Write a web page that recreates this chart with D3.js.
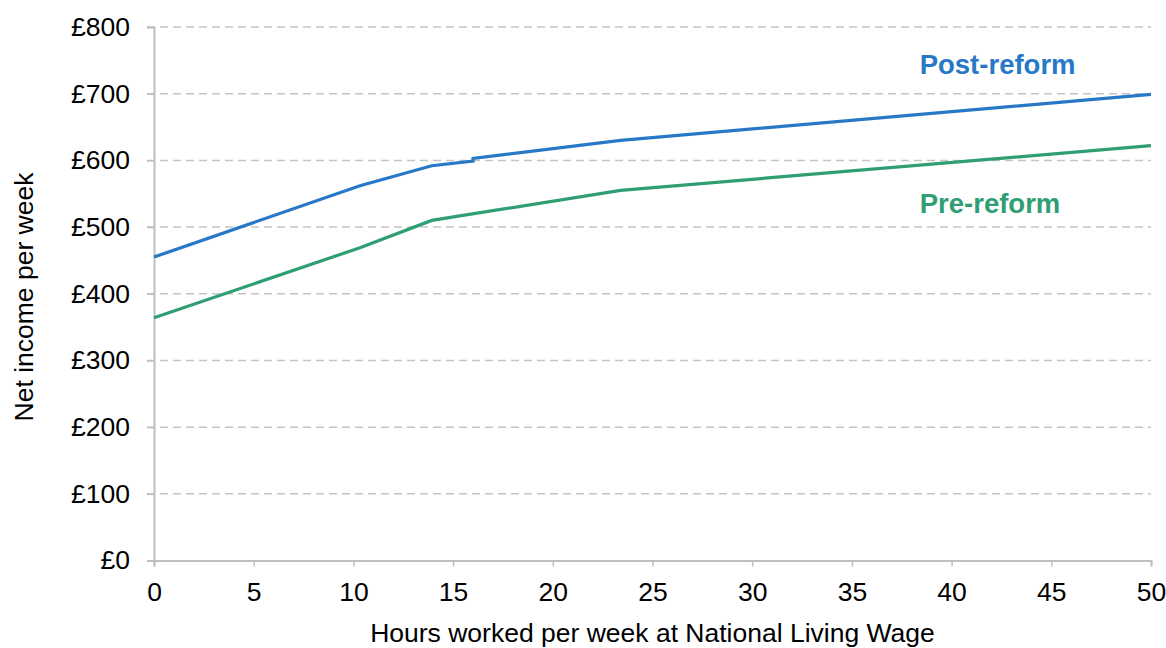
<!DOCTYPE html>
<html>
<head>
<meta charset="utf-8">
<script src="https://cdn.jsdelivr.net/npm/d3@7"></script>
<style>
  html, body { margin: 0; padding: 0; background: #fff; }
  svg { display: block; }
  text { font-family: "Liberation Sans", Arial, sans-serif; }
</style>
</head>
<body>
<svg id="chart" width="1166" height="648"></svg>
<script>
// Data (hours worked per week, net income £ per week)
const postHours  = [0, 10.33, 13.93, 16.0, 16.0, 23.4, 50];
const postIncome = [455, 562, 592, 599, 603, 630, 699];
const preHours   = [0, 10.33, 13.93, 23.4, 50];
const preIncome  = [364, 469, 510, 555, 622];
const xTicks = [0, 5, 10, 15, 20, 25, 30, 35, 40, 45, 50];
const yTicks = [0, 100, 200, 300, 400, 500, 600, 700, 800];
const seriesNames = ["Post-reform", "Pre-reform"];
const xTitle = "Hours worked per week at National Living Wage";
const yTitle = "Net income per week";

const colors = { post: "#2878c8", pre: "#2f9e72" };
const FONT = "'Liberation Sans', Arial, sans-serif";
const fs = 26.5;

const svg = d3.select("#chart");
const mLeft = 154, mRight = 1151, mTop = 27, mBottom = 560.5;

const x = d3.scaleLinear().domain([0, 50]).range([mLeft, mRight]);
const y = d3.scaleLinear().domain([0, 800]).range([mBottom, mTop]);

// gridlines
svg.append("g")
  .selectAll("line")
  .data(yTicks.filter(d => d > 0))
  .join("line")
  .attr("x1", mLeft - 7).attr("x2", mRight)
  .attr("y1", d => y(d)).attr("y2", d => y(d))
  .attr("stroke", "#c4c4c4")
  .attr("stroke-width", 1.5)
  .attr("stroke-dasharray", "8,5");

// y axis
const yAxis = svg.append("g")
  .attr("transform", `translate(${mLeft},0)`)
  .call(d3.axisLeft(y).tickValues(yTicks).tickSize(7).tickPadding(17)
        .tickFormat(d => "£" + d));
yAxis.select(".domain").attr("stroke", "#bfbfbf").attr("stroke-width", 2);
yAxis.selectAll(".tick line").attr("stroke", "#bfbfbf").attr("stroke-width", 1.5);
yAxis.selectAll(".tick text").attr("font-size", fs).attr("fill", "#000")
  .attr("font-family", FONT);

// x axis
const xAxis = svg.append("g")
  .attr("transform", `translate(0,${mBottom})`)
  .call(d3.axisBottom(x).tickValues(xTicks).tickSize(6).tickPadding(16));
xAxis.select(".domain").attr("stroke", "#bfbfbf").attr("stroke-width", 2);
xAxis.selectAll(".tick line").attr("stroke", "#bfbfbf").attr("stroke-width", 1.5);
xAxis.selectAll(".tick text").attr("font-size", fs).attr("fill", "#000")
  .attr("font-family", FONT);

// lines
const line = d3.line().x(d => x(d[0])).y(d => y(d[1]));
const postData = postHours.map((h, i) => [h, postIncome[i]]);
const preData = preHours.map((h, i) => [h, preIncome[i]]);

svg.append("path").datum(preData)
  .attr("d", line).attr("fill", "none")
  .attr("stroke", colors.pre).attr("stroke-width", 3.2);
svg.append("path").datum(postData)
  .attr("d", line).attr("fill", "none")
  .attr("stroke", colors.post).attr("stroke-width", 3.2);

// series labels
svg.append("text")
  .attr("x", x(38.4)).attr("y", y(740) + 7)
  .attr("font-size", 27.5).attr("font-weight", "bold")
  .attr("fill", colors.post).text(seriesNames[0]);
svg.append("text")
  .attr("x", x(38.4)).attr("y", y(530) + 6)
  .attr("font-size", 27.5).attr("font-weight", "bold")
  .attr("fill", colors.pre).text(seriesNames[1]);

// axis titles
svg.append("text")
  .attr("x", (mLeft + mRight) / 2).attr("y", 641.5)
  .attr("text-anchor", "middle").attr("font-size", fs).attr("fill", "#000")
  .text(xTitle);
svg.append("text")
  .attr("transform", `translate(33,297) rotate(-90)`)
  .attr("text-anchor", "middle").attr("font-size", fs).attr("fill", "#000")
  .text(yTitle);
</script>
</body>
</html>
